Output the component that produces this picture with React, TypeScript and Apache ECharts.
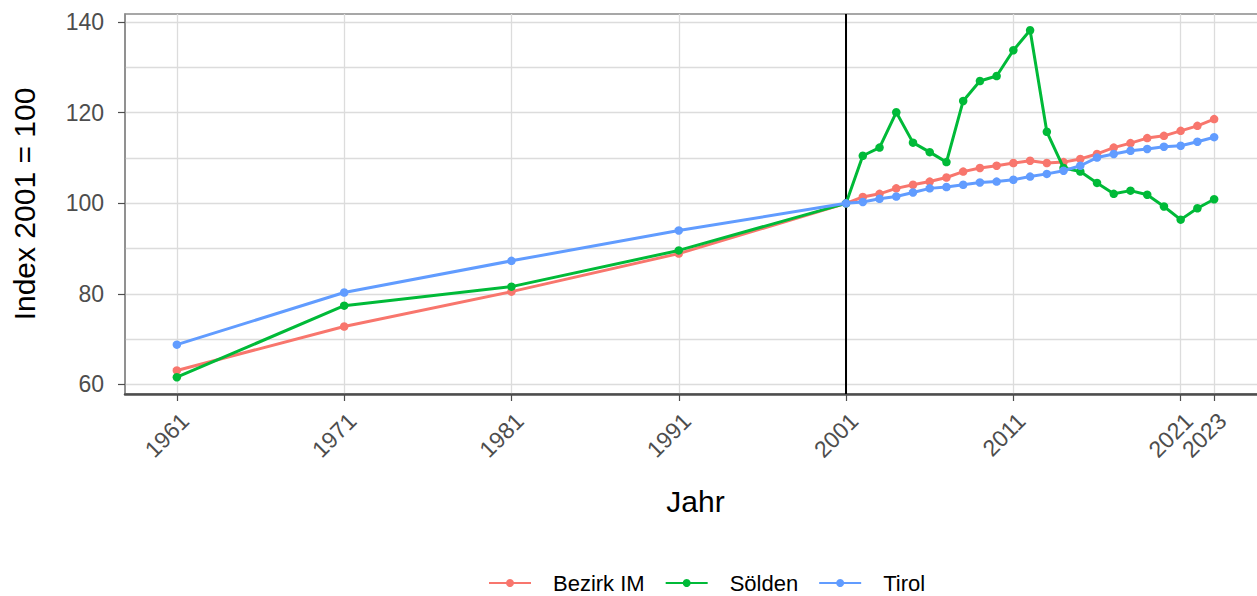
import React, { useEffect, useRef } from "react";
import * as echarts from "echarts";

const years = [1961, 1971, 1981, 1991, 2001, 2002, 2003, 2004, 2005, 2006, 2007, 2008, 2009, 2010, 2011, 2012, 2013, 2014, 2015, 2016, 2017, 2018, 2019, 2020, 2021, 2022, 2023];
const bezirkIM = [63.1, 72.8, 80.5, 88.9, 100, 101.4, 102.1, 103.3, 104.1, 104.8, 105.7, 107.0, 107.8, 108.3, 108.9, 109.4, 108.9, 109.1, 109.8, 110.9, 112.3, 113.3, 114.4, 114.9, 116.0, 117.1, 118.6];
const soelden = [61.6, 77.4, 81.6, 89.6, 100, 110.5, 112.3, 120.1, 113.4, 111.3, 109.1, 122.6, 127.0, 128.1, 133.8, 138.2, 115.8, 107.8, 107.0, 104.5, 102.1, 102.8, 101.9, 99.3, 96.4, 98.9, 100.9];
const tirol = [68.8, 80.3, 87.3, 94.0, 100, 100.3, 101.0, 101.5, 102.4, 103.3, 103.6, 104.1, 104.6, 104.8, 105.2, 105.9, 106.5, 107.2, 108.3, 110.1, 110.9, 111.6, 112.0, 112.5, 112.7, 113.6, 114.6];

const seriesNames = ["Bezirk IM", "Sölden", "Tirol"];
const seriesColors = ["#F8766D", "#00BA38", "#619CFF"];
const xTickYears = [1961, 1971, 1981, 1991, 2001, 2011, 2021, 2023];
const yTickLabels = [60, 80, 100, 120, 140];
const yGridValues = [60, 70, 80, 90, 100, 110, 120, 130, 140];
const referenceYear = 2001;

const FONT = "'Liberation Sans', Arial, sans-serif";

export default function App() {
  const ref = useRef<HTMLDivElement>(null);
  useEffect(() => {
    if (!ref.current) return;
    const chart = echarts.init(ref.current, null, { renderer: "svg" });
    const allValues = [bezirkIM, soelden, tirol];
    const series: any[] = allValues.map((vals, i) => ({
      name: seriesNames[i],
      type: "line",
      data: years.map((y, j) => [y, vals[j]]),
      symbol: "circle",
      symbolSize: 8.5,
      lineStyle: { width: 3, color: seriesColors[i] },
      itemStyle: { color: seriesColors[i] },
      z: 3 + i,
    }));
    series[0].markLine = {
      silent: true,
      symbol: ["none", "none"],
      label: { show: false },
      lineStyle: { color: "#000000", width: 2, type: "solid" },
      data: [{ xAxis: referenceYear }],
      z: 2,
    };
    chart.setOption({
      animation: false,
      textStyle: { fontFamily: FONT },
      grid: {
        left: 125,
        top: 14,
        right: 0,
        bottom: 202,
        show: true,
        borderColor: "#8A8A8A",
        borderWidth: 1.5,
        containLabel: false,
      },
      legend: {
        top: 572,
        left: 488,
        padding: 0,
        itemWidth: 42,
        itemHeight: 10,
        itemGap: 20,
        textStyle: { fontSize: 22, color: "#000", fontFamily: FONT, padding: [0, 0, 0, 17] },
        data: seriesNames,
      },
      xAxis: {
        type: "value",
        min: 1957.9,
        max: 2026.1,
        name: "Jahr",
        nameLocation: "middle",
        nameGap: 92,
        nameTextStyle: { fontSize: 30, color: "#000", fontFamily: FONT },
        axisLine: { show: true, lineStyle: { color: "#4D4D4D", width: 2.5 } },
        axisTick: { show: true, customValues: xTickYears, length: 7, lineStyle: { color: "#4D4D4D", width: 1.2 } },
        axisLabel: {
          customValues: xTickYears,
          rotate: 45,
          fontSize: 23,
          color: "#4D4D4D",
          margin: 15,
          verticalAlign: "top",
          formatter: (v: number) => String(v),
        },
        splitLine: { show: true, lineStyle: { color: "#DCDCDC", width: 1.3 } },
      },
      yAxis: [
        {
          type: "value",
          min: 57.9,
          max: 141.8,
          name: "Index 2001 = 100",
          nameLocation: "middle",
          nameGap: 86,
          nameTextStyle: { fontSize: 30, color: "#000", fontFamily: FONT },
          axisLine: { show: true, lineStyle: { color: "#8A8A8A", width: 1.5 } },
          axisTick: { show: false, customValues: yGridValues },
          axisLabel: {
            customValues: yTickLabels,
            fontSize: 23,
            color: "#4D4D4D",
            margin: 21,
            formatter: (v: number) => String(v),
          },
          splitLine: { show: true, lineStyle: { color: "#DCDCDC", width: 1.3 } },
        },
        {
          type: "value",
          position: "left",
          min: 57.9,
          max: 141.8,
          axisLine: { show: false },
          axisTick: { show: true, customValues: yTickLabels, length: 7, lineStyle: { color: "#4D4D4D", width: 1.2 } },
          axisLabel: { show: false },
          splitLine: { show: false },
        },
      ],
      series,
    });
    return () => chart.dispose();
  }, []);
  return (
    <div style={{ position: "fixed", left: 0, top: 0, width: 1257, height: 596, overflow: "hidden", background: "#fff" }}>
      <div ref={ref} style={{ width: 1266, height: 596 }} />
    </div>
  );
}
